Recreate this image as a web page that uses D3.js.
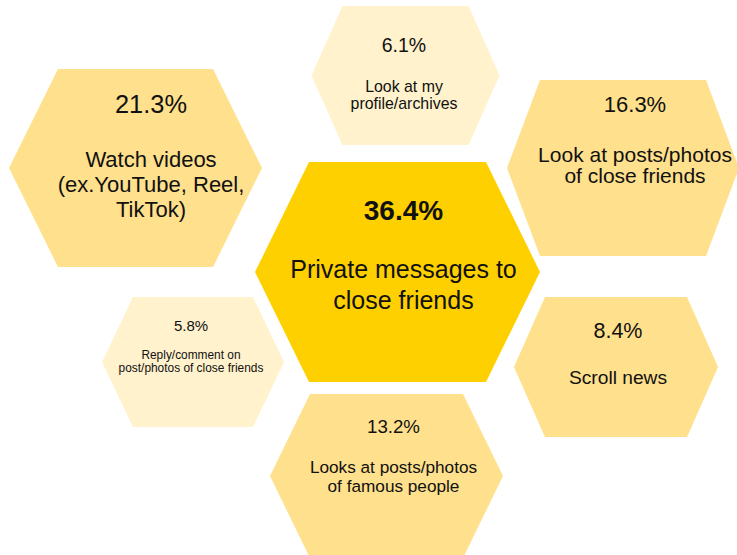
<!DOCTYPE html>
<html>
<head>
<meta charset="utf-8">
<script src="https://cdn.jsdelivr.net/npm/d3@7"></script>
<style>
  html, body { margin: 0; padding: 0; background: #fff; }
  svg { display: block; }
  text { font-family: "Liberation Sans", Arial, Helvetica, sans-serif; fill: #111; }
</style>
</head>
<body>
<svg id="chart" width="737" height="555"></svg>
<script>
// Share of respondents per activity
const activities = [
  "Private messages to close friends",
  "Watch videos (ex.YouTube, Reel, TikTok)",
  "Look at my profile/archives",
  "Look at posts/photos of close friends",
  "Reply/comment on post/photos of close friends",
  "Scroll news",
  "Looks at posts/photos of famous people"
];
const shares = [36.4, 21.3, 6.1, 16.3, 5.8, 8.4, 13.2];
// Line breaks used inside each cell
const labelLines = [
  ["Private messages to", "close friends"],
  ["Watch videos", "(ex.YouTube, Reel,", "TikTok)"],
  ["Look at my", "profile/archives"],
  ["Look at posts/photos", "of close friends"],
  ["Reply/comment on", "post/photos of close friends"],
  ["Scroll news"],
  ["Looks at posts/photos", "of famous people"]
];

// Cell geometry: centre, half width, half height, corner inset, text centre, type sizes
const layout = [
  { cx: 397.5, cy: 272, hw: 142.5, hh: 110, inset: 54, tx: 403.5, vy: 220, vs: 28,   bold: true,  ly: 278, ls: 25,   lh: 31 },
  { cx: 135.5, cy: 168, hw: 126.5, hh: 99,  inset: 49, tx: 151,   vy: 113, vs: 25.4, bold: false, ly: 167, ls: 22,   lh: 25 },
  { cx: 405.5, cy: 75.5,hw: 94,    hh: 69.5,inset: 31, tx: 404,   vy: 52,  vs: 19.5, bold: false, ly: 92,  ls: 15.9, lh: 17 },
  { cx: 623,   cy: 168, hw: 116,   hh: 88,  inset: 33, tx: 635,   vy: 112, vs: 22,   bold: false, ly: 162, ls: 21,   lh: 21 },
  { cx: 193,   cy: 362, hw: 91,    hh: 65,  inset: 31, tx: 191,   vy: 331, vs: 15,   bold: false, ly: 359, ls: 11.9, lh: 13 },
  { cx: 616,   cy: 367, hw: 102,   hh: 70,  inset: 31, tx: 618,   vy: 338, vs: 21.5, bold: false, ly: 384, ls: 19.2, lh: 20 },
  { cx: 386.5, cy: 476, hw: 116.5, hh: 82,  inset: 40, tx: 393.5, vy: 433, vs: 18.7, bold: false, ly: 473, ls: 17.2, lh: 19 }
];

// Fill shade depends on the share
const fill = d3.scaleThreshold()
  .domain([7, 30])
  .range(["#FFF2CC", "#FFE08C", "#FFD000"]);

const hexLine = d3.line();
function hexPoints(g) {
  return [
    [g.cx - g.hw + g.inset, g.cy - g.hh],
    [g.cx + g.hw - g.inset, g.cy - g.hh],
    [g.cx + g.hw, g.cy],
    [g.cx + g.hw - g.inset, g.cy + g.hh],
    [g.cx - g.hw + g.inset, g.cy + g.hh],
    [g.cx - g.hw, g.cy]
  ];
}

const cells = activities.map((name, i) => ({
  name, value: shares[i], lines: labelLines[i], g: layout[i]
}));

const svg = d3.select("#chart");
const fmt = d3.format(".1f");

const cell = svg.selectAll("g.cell")
  .data(cells)
  .join("g")
  .attr("class", "cell");

cell.append("path")
  .attr("d", d => hexLine(hexPoints(d.g)) + "Z")
  .attr("fill", d => fill(d.value));

cell.append("text")
  .attr("x", d => d.g.tx)
  .attr("y", d => d.g.vy)
  .attr("text-anchor", "middle")
  .attr("font-size", d => d.g.vs)
  .attr("font-weight", d => d.g.bold ? "bold" : "normal")
  .text(d => fmt(d.value) + "%");

cell.append("text")
  .attr("text-anchor", "middle")
  .attr("font-size", d => d.g.ls)
  .selectAll("tspan")
  .data(d => d.lines.map((t, k) => ({ t, k, g: d.g })))
  .join("tspan")
  .attr("x", d => d.g.tx)
  .attr("y", d => d.g.ly + d.k * d.g.lh)
  .text(d => d.t);
</script>
</body>
</html>
